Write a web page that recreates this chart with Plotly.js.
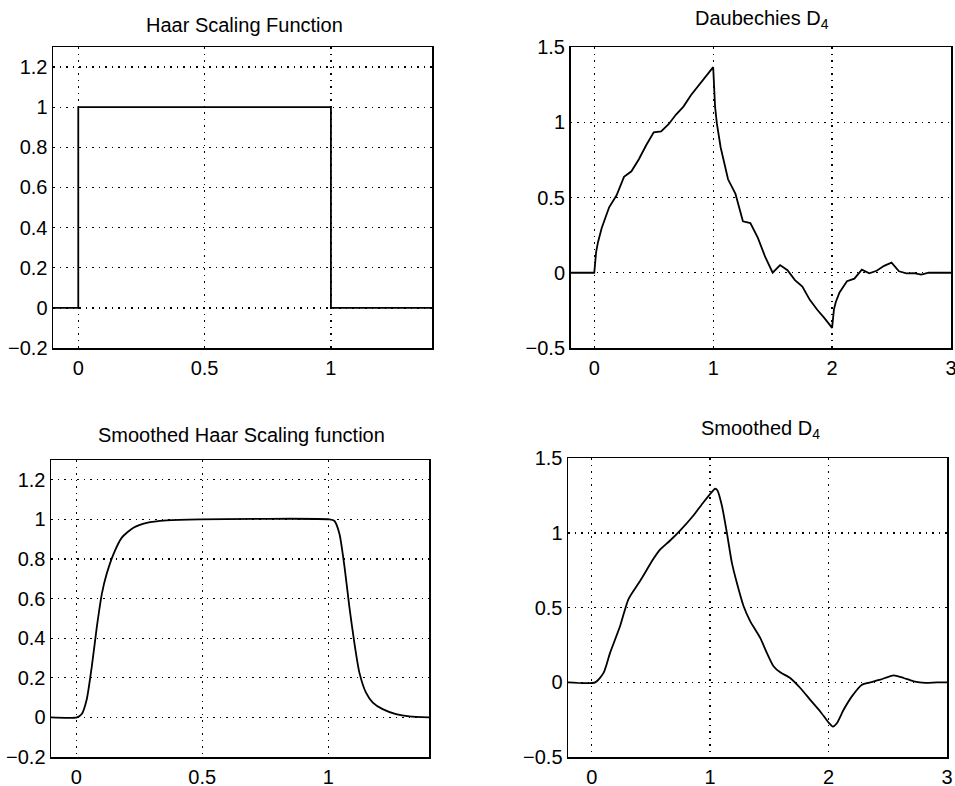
<!DOCTYPE html>
<html>
<head>
<meta charset="utf-8">
<script src="https://cdn.plot.ly/plotly-3.0.1.min.js"></script>
<style>html,body{margin:0;padding:0;background:#fff;}#chart{width:955px;height:786px;}</style>
</head>
<body>
<div id="chart"></div>
<script>
// Haar scaling function
const haarX = [-0.1, 0, 0, 1, 1, 1.4];
const haarY = [0, 0, 1, 1, 0, 0];

// Daubechies D4 scaling function (values read at dyadic points)
const d4X = [-0.2, 0, 0.015625, 0.03125, 0.0625, 0.125, 0.1875, 0.25, 0.3125, 0.375, 0.4375, 0.5,
  0.5625, 0.625, 0.6875, 0.75, 0.8125, 0.875, 0.9375, 0.96875, 1, 1.015625, 1.03125, 1.0625, 1.125,
  1.1875, 1.25, 1.3125, 1.375, 1.4375, 1.5, 1.5625, 1.625, 1.6875, 1.75, 1.8125, 1.875, 1.9375, 2,
  2.015625, 2.03125, 2.0625, 2.125, 2.1875, 2.25, 2.3125, 2.375, 2.4375, 2.5, 2.5625, 2.625, 2.6875,
  2.75, 2.8125, 2.875, 2.9375, 3];
const d4Y = [0, 0, 0.139, 0.203, 0.297, 0.435, 0.515, 0.637, 0.674, 0.754, 0.849, 0.933,
  0.939, 0.987, 1.051, 1.104, 1.179, 1.243, 1.303, 1.335, 1.366, 1.104, 0.991, 0.834, 0.621,
  0.524, 0.342, 0.330, 0.233, 0.105, 0.0, 0.051, 0.017, -0.049, -0.092, -0.180, -0.246, -0.303, -0.366,
  -0.243, -0.194, -0.131, -0.056, -0.039, 0.021, -0.004, 0.013, 0.046, 0.067, 0.010, -0.004, -0.002,
  -0.012, 0.001, 0.002, 0.0, 0];

// Smoothed Haar scaling function
const sHaarX = [-0.1, 0.003, 0.022, 0.042, 0.062, 0.082, 0.102, 0.121, 0.148, 0.181, 0.227, 0.28, 0.359,
  0.491, 1.005, 1.025, 1.045, 1.065, 1.084, 1.104, 1.124, 1.15, 1.177, 1.216, 1.269, 1.322, 1.4];
const sHaarY = [0, 0, 0.017, 0.092, 0.258, 0.458, 0.625, 0.725, 0.825, 0.908, 0.958, 0.983, 0.995,
  1.0, 1.0, 0.992, 0.925, 0.758, 0.558, 0.375, 0.225, 0.125, 0.075, 0.042, 0.017, 0.005, 0];

// Smoothed D4
const sD4X = [-0.2, 0.03, 0.1, 0.155, 0.24, 0.31, 0.41, 0.52, 0.577, 0.66, 0.746, 0.859, 0.944, 1.014,
  1.042, 1.062, 1.099, 1.141, 1.183, 1.225, 1.282, 1.338, 1.423, 1.479, 1.535, 1.592, 1.676, 1.761,
  1.845, 1.93, 2.0, 2.037, 2.07, 2.127, 2.197, 2.282, 2.352, 2.437, 2.549, 2.634, 2.718, 2.817, 2.915, 3.0];
const sD4Y = [0, 0, 0.063, 0.197, 0.377, 0.556, 0.68, 0.825, 0.888, 0.948, 1.016, 1.117, 1.206, 1.274,
  1.296, 1.285, 1.184, 1.004, 0.803, 0.668, 0.511, 0.41, 0.298, 0.197, 0.108, 0.067, 0.029, -0.038,
  -0.117, -0.195, -0.269, -0.296, -0.274, -0.184, -0.094, -0.016, 0.0, 0.018, 0.047, 0.029, 0.007, -0.004, 0, 0];

const leftXTicks = [0, 0.5, 1];
const leftYTicks = [-0.2, 0, 0.2, 0.4, 0.6, 0.8, 1, 1.2];
const rightXTicks = [0, 1, 2, 3];
const rightYTicks = [-0.5, 0, 0.5, 1, 1.5];

const titles = ['Haar Scaling Function', 'Daubechies D<sub>4</sub>',
  'Smoothed Haar Scaling function', 'Smoothed D<sub>4</sub>'];

const lineStyle = {color: '#000', width: 1.8};
const traces = [
  {x: haarX, y: haarY, xaxis: 'x', yaxis: 'y', mode: 'lines', line: lineStyle},
  {x: d4X, y: d4Y, xaxis: 'x2', yaxis: 'y2', mode: 'lines', line: lineStyle},
  {x: sHaarX, y: sHaarY, xaxis: 'x3', yaxis: 'y3', mode: 'lines', line: Object.assign({shape: 'spline', smoothing: 0.6}, lineStyle)},
  {x: sD4X, y: sD4Y, xaxis: 'x4', yaxis: 'y4', mode: 'lines', line: Object.assign({shape: 'spline', smoothing: 0.6}, lineStyle)}
];

const tickFont = {family: 'Liberation Sans, Arial, sans-serif', size: 20, color: '#000'};
function ax(domain, range, ticks, anchor, isX) {
  return {
    domain: domain, range: range, tickvals: ticks, anchor: anchor,
    showline: true, linecolor: '#000', linewidth: 1.5, mirror: true,
    showgrid: true, gridcolor: '#000', gridwidth: 1.3, griddash: '1.5px,5px',
    zeroline: false, ticks: '', tickfont: tickFont, fixedrange: true,
    ticklabelstandoff: isX ? 1 : 0, ticklabeloverflow: 'allow'
  };
}

const H = 786, W = 955;
const layout = {
  width: W, height: H, margin: {l: 0, r: 0, t: 0, b: 0},
  paper_bgcolor: '#fff', plot_bgcolor: '#fff', showlegend: false,
  xaxis: ax([53/W, 432/W], [-0.1, 1.4], leftXTicks, 'y', true),
  yaxis: ax([1-348/H, 1-47/H], [-0.2, 1.3], leftYTicks, 'x', false),
  xaxis2: ax([570.5/W, 951/W], [-0.2, 3], rightXTicks, 'y2', true),
  yaxis2: ax([1-348/H, 1-47/H], [-0.5, 1.5], rightYTicks, 'x2', false),
  xaxis3: ax([51/W, 429/W], [-0.1, 1.4], leftXTicks, 'y3', true),
  yaxis3: ax([1-757/H, 1-460/H], [-0.2, 1.3], leftYTicks, 'x3', false),
  xaxis4: ax([568/W, 947/W], [-0.2, 3], rightXTicks, 'y4', true),
  yaxis4: ax([1-757/H, 1-458.3/H], [-0.5, 1.5], rightYTicks, 'x4', false),
  annotations: [
    {text: titles[0], x: 244.5/W, y: 1-25/H},
    {text: titles[1], x: 762/W, y: 1-19/H},
    {text: titles[2], x: 242/W, y: 1-435/H},
    {text: titles[3], x: 760/W, y: 1-430/H}
  ].map(a => Object.assign({xref: 'paper', yref: 'paper', showarrow: false, xanchor: 'center', yanchor: 'middle',
    font: {family: 'Liberation Sans, Arial, sans-serif', size: 20, color: '#000'}}, a))
};

Plotly.newPlot('chart', traces, layout, {displayModeBar: false, staticPlot: true});
</script>
</body>
</html>
